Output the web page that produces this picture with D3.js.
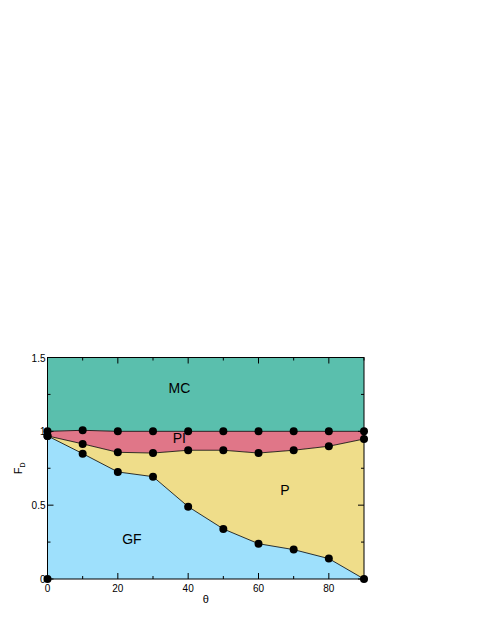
<!DOCTYPE html><html><head><script src="https://cdn.jsdelivr.net/npm/d3@7"></script>
<style>body{margin:0;background:#fff}text{font-family:"Liberation Sans",Arial,sans-serif}</style></head><body>
<script>
const theta=[0,10,20,30,40,50,60,70,80,90];
const mcTop=[1.0,1.007,1.0,1.0,1.0,1.0,1.0,1.0,1.0,1.0];
const piLow=[0.969,0.915,0.858,0.853,0.872,0.872,0.853,0.872,0.899,0.948];
const gfTop=[0.969,0.849,0.725,0.693,0.49,0.339,0.239,0.199,0.138,0.0];
const xTicks=[0,20,40,60,80];
const yTicks=[0,0.5,1,1.5];
const W=485,H=627;
const svg=d3.select("body").append("svg").attr("width",W).attr("height",H);
const x=d3.scaleLinear().domain([0,90]).range([47.5,364]);
const y=d3.scaleLinear().domain([0,1.5]).range([579,357.5]);
const g=svg.append("g");
const area=(lo,hi)=>d3.area().x((d,i)=>x(theta[i])).y0((d,i)=>y(lo[i])).y1((d,i)=>y(hi[i]))(theta);
const zeros=theta.map(()=>0), topVals=theta.map(()=>1.5);
g.append("path").attr("d",area(mcTop,topVals)).attr("fill","#5abfad");
g.append("path").attr("d",area(piLow,mcTop)).attr("fill","#e07688");
g.append("path").attr("d",area(gfTop,piLow)).attr("fill","#efdd8a");
g.append("path").attr("d",area(zeros,gfTop)).attr("fill","#9ee0fc");
const line=d3.line().x((d,i)=>x(theta[i])).y(d=>y(d));
[mcTop,piLow,gfTop].forEach(s=>g.append("path").attr("d",line(s)).attr("fill","none").attr("stroke","#000").attr("stroke-width",0.8));
[mcTop,piLow,gfTop].forEach(s=>s.forEach((v,i)=>g.append("circle").attr("cx",x(theta[i])).attr("cy",y(v)).attr("r",4).attr("fill","#000")));
g.append("circle").attr("cx",x(0)).attr("cy",y(0)).attr("r",4).attr("fill","#000");
svg.append("rect").attr("x",x(0)).attr("y",y(1.5)).attr("width",x(90)-x(0)).attr("height",y(0)-y(1.5)).attr("fill","none").attr("stroke","#000").attr("stroke-width",1);
const tk=svg.append("g").attr("stroke","#000").attr("stroke-width",1);
d3.range(0,91,10).forEach(t=>{const L=t%20===0?6:3;
 tk.append("line").attr("x1",x(t)).attr("x2",x(t)).attr("y1",y(0)).attr("y2",y(0)-L);
 tk.append("line").attr("x1",x(t)).attr("x2",x(t)).attr("y1",y(1.5)).attr("y2",y(1.5)+L);});
d3.range(0,1.51,0.25).forEach(v=>{const L=Math.abs(v*2-Math.round(v*2))<1e-6?6:3;
 tk.append("line").attr("x1",x(0)).attr("x2",x(0)+L).attr("y1",y(v)).attr("y2",y(v));
 tk.append("line").attr("x1",x(90)).attr("x2",x(90)-L).attr("y1",y(v)).attr("y2",y(v));});
xTicks.forEach(t=>svg.append("text").attr("x",x(t)).attr("y",y(0)+13).attr("text-anchor","middle").attr("font-size",10).text(t));
yTicks.forEach(v=>svg.append("text").attr("x",x(0)-2).attr("y",y(v)+4).attr("text-anchor","end").attr("font-size",10).text(v));
svg.append("text").attr("x",x(45)).attr("y",603).attr("text-anchor","middle").attr("font-size",11).text("θ");
const yl=svg.append("text").attr("transform",`translate(22,${y(0.75)}) rotate(-90)`).attr("text-anchor","middle").attr("font-size",11);
yl.append("tspan").text("F");yl.append("tspan").attr("font-size",7).attr("dy",3).text("D");
const lab=(t,tx,ty)=>svg.append("text").attr("x",x(tx)).attr("y",y(ty)).attr("text-anchor","middle").attr("font-size",14).text(t);
lab("MC",37.5,1.26);lab("PI",37.5,0.92);lab("P",67.5,0.57);lab("GF",24,0.24);
</script></body></html>
